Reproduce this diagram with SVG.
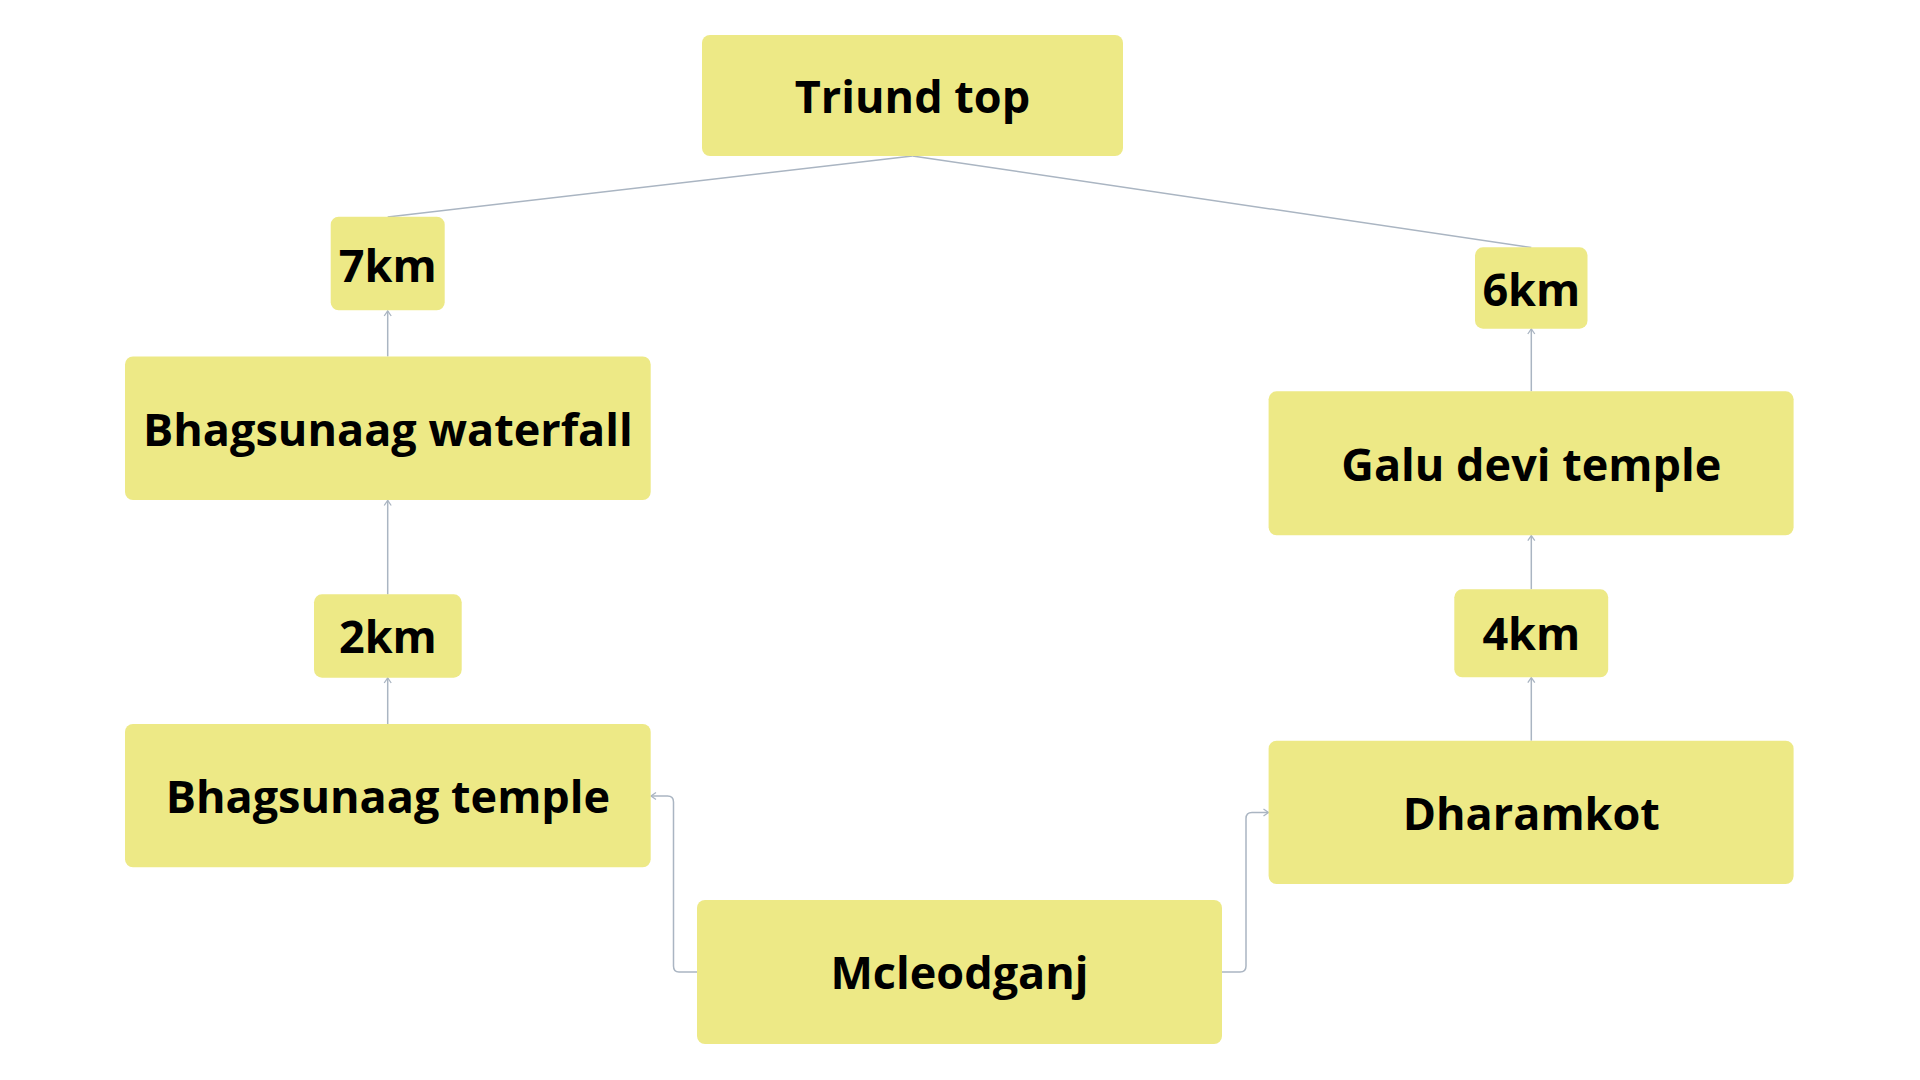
<svg xmlns="http://www.w3.org/2000/svg" width="1920" height="1080" viewBox="0 0 1920 1080">
<style>
.box{fill:#ede986;}
.lbl{font-family:"Open Sans","Noto Sans",sans-serif;font-weight:700;font-size:45px;fill:#000;text-anchor:middle;}
.conn{fill:none;stroke:#aab5c2;stroke-width:1.5;}
</style>
<defs>
<marker id="arr" markerUnits="userSpaceOnUse" markerWidth="12" markerHeight="12" viewBox="0 0 12 12" refX="10" refY="6" orient="auto">
<path d="M5,2.5 L10,6 L5,9.5" fill="none" stroke="#aab5c2" stroke-width="1.3"/>
</marker>
</defs>
<rect width="1920" height="1080" fill="#fff"/>
<g id="connectors">
<line class="conn" x1="912.5" y1="156" x2="387.7" y2="217"/>
<line class="conn" x1="912.5" y1="156" x2="1531.3" y2="247.5"/>
<line class="conn" x1="387.7" y1="356.5" x2="387.7" y2="311" marker-end="url(#arr)"/>
<line class="conn" x1="387.7" y1="594.5" x2="387.7" y2="500.5" marker-end="url(#arr)"/>
<line class="conn" x1="387.7" y1="724" x2="387.7" y2="678" marker-end="url(#arr)"/>
<path class="conn" d="M697,972 H679 Q673.5,972 673.5,966 V802 Q673.5,796 667.5,796 H651" marker-end="url(#arr)"/>
<path class="conn" d="M1222,972 H1240 Q1246,972 1246,966 V818.5 Q1246,812.5 1252,812.5 H1268.5" marker-end="url(#arr)"/>
<line class="conn" x1="1531.3" y1="740.7" x2="1531.3" y2="677.7" marker-end="url(#arr)"/>
<line class="conn" x1="1531.3" y1="589.3" x2="1531.3" y2="535.7" marker-end="url(#arr)"/>
<line class="conn" x1="1531.3" y1="391.3" x2="1531.3" y2="329" marker-end="url(#arr)"/>
</g>
<g id="triund-top">
<rect class="box" x="702" y="35" width="421" height="121" rx="8"/>
<text class="lbl" x="912.5" y="113">Triund top</text>
</g>
<g id="km7">
<rect class="box" x="330.7" y="216.7" width="114" height="93.6" rx="8"/>
<text class="lbl" x="387.7" y="281.5">7km</text>
</g>
<g id="bhagsunaag-waterfall">
<rect class="box" x="125" y="356.5" width="525.7" height="143.5" rx="8"/>
<text class="lbl" x="387.9" y="445.5">Bhagsunaag waterfall</text>
</g>
<g id="km2">
<rect class="box" x="314" y="594.3" width="147.7" height="83.4" rx="8"/>
<text class="lbl" x="387.9" y="653">2km</text>
</g>
<g id="bhagsunaag-temple">
<rect class="box" x="125" y="724" width="525.7" height="143.3" rx="8"/>
<text class="lbl" x="387.9" y="812.5">Bhagsunaag temple</text>
</g>
<g id="mcleodganj">
<rect class="box" x="697" y="900" width="525" height="144" rx="8"/>
<text class="lbl" x="959.5" y="989">Mcleodganj</text>
</g>
<g id="dharamkot">
<rect class="box" x="1268.6" y="740.7" width="525" height="143.3" rx="8"/>
<text class="lbl" x="1531.3" y="829.5">Dharamkot</text>
</g>
<g id="km4">
<rect class="box" x="1454.3" y="589.3" width="153.9" height="88" rx="8"/>
<text class="lbl" x="1531.3" y="650">4km</text>
</g>
<g id="galu-devi-temple">
<rect class="box" x="1268.6" y="391.3" width="525" height="144" rx="8"/>
<text class="lbl" x="1531.3" y="480.5">Galu devi temple</text>
</g>
<g id="km6">
<rect class="box" x="1475" y="247.3" width="112.5" height="81.4" rx="8"/>
<text class="lbl" x="1531.3" y="305.5">6km</text>
</g>
</svg>
